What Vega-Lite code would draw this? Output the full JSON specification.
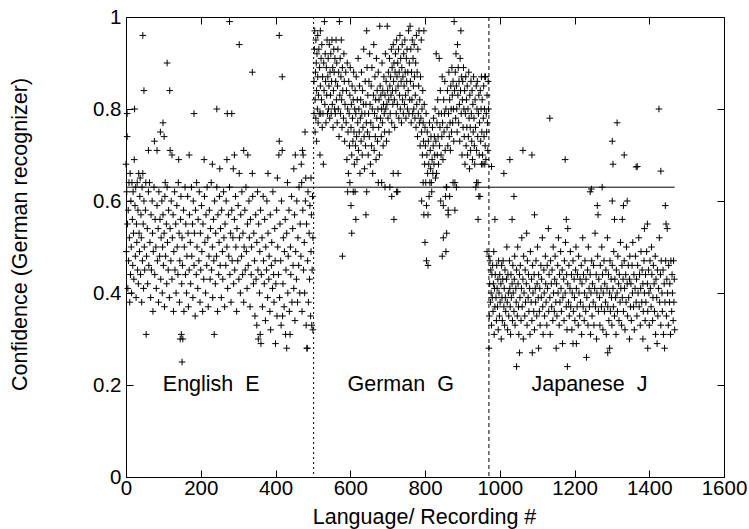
{
  "$schema": "https://vega.github.io/schema/vega-lite/v6.json",
  "width": 598,
  "height": 460,
  "autosize": {"type": "none"},
  "padding": {"left": 126, "top": 17, "right": 25, "bottom": 52},
  "background": "white",
  "config": {
    "view": {"stroke": "black", "strokeWidth": 1},
    "axis": {"grid": false, "domain": false, "tickColor": "black", "tickSize": -7, "tickWidth": 1, "labelColor": "black", "labelFont": "Liberation Sans", "labelFontSize": 20.5, "labelFlush": false, "labelOverlap": false, "titleFont": "Liberation Sans", "titleFontSize": 21.5, "titleFontWeight": "normal", "titleColor": "black"}
  },
  "resolve": {"axis": {"x": "independent", "y": "independent"}},
  "layer": [
    {
      "data": {"values": [
{"rec":0,"conf":0.68},{"rec":1,"conf":0.49},{"rec":2,"conf":0.62},{"rec":3,"conf":0.79},{"rec":3,"conf":0.74},{"rec":4,"conf":0.55},{"rec":5,"conf":0.41},{"rec":6,"conf":0.58},{"rec":7,"conf":0.47},{"rec":8,"conf":0.64},{"rec":9,"conf":0.52},{"rec":10,"conf":0.38},{"rec":11,"conf":0.66},{"rec":12,"conf":0.44},{"rec":13,"conf":0.60},{"rec":14,"conf":0.50},{"rec":15,"conf":0.40},{"rec":16,"conf":0.64},{"rec":17,"conf":0.56},{"rec":18,"conf":0.46},{"rec":19,"conf":0.62},{"rec":20,"conf":0.53},{"rec":21,"conf":0.43},{"rec":22,"conf":0.69},{"rec":23,"conf":0.80},{"rec":24,"conf":0.59},{"rec":25,"conf":0.48},{"rec":26,"conf":0.63},{"rec":27,"conf":0.39},{"rec":28,"conf":0.55},{"rec":29,"conf":0.51},{"rec":30,"conf":0.64},{"rec":31,"conf":0.45},{"rec":32,"conf":0.58},{"rec":33,"conf":0.42},{"rec":34,"conf":0.66},{"rec":35,"conf":0.53},{"rec":36,"conf":0.49},{"rec":37,"conf":0.61},{"rec":38,"conf":0.65},{"rec":39,"conf":0.44},{"rec":40,"conf":0.57},{"rec":41,"conf":0.52},{"rec":42,"conf":0.38},{"rec":43,"conf":0.63},{"rec":44,"conf":0.47},{"rec":45,"conf":0.66},{"rec":45,"conf":0.96},{"rec":46,"conf":0.55},{"rec":47,"conf":0.41},{"rec":48,"conf":0.84},{"rec":48,"conf":0.60},{"rec":49,"conf":0.50},{"rec":50,"conf":0.45},
{"rec":52,"conf":0.58},{"rec":53,"conf":0.64},{"rec":54,"conf":0.31},{"rec":55,"conf":0.48},{"rec":57,"conf":0.54},{"rec":58,"conf":0.42},{"rec":60,"conf":0.71},{"rec":60,"conf":0.62},{"rec":61,"conf":0.46},{"rec":63,"conf":0.64},{"rec":64,"conf":0.51},{"rec":66,"conf":0.39},{"rec":67,"conf":0.57},{"rec":68,"conf":0.45},{"rec":70,"conf":0.60},{"rec":71,"conf":0.53},{"rec":72,"conf":0.36},{"rec":73,"conf":0.49},{"rec":75,"conf":0.63},{"rec":76,"conf":0.73},{"rec":77,"conf":0.44},{"rec":78,"conf":0.56},{"rec":80,"conf":0.50},{"rec":81,"conf":0.41},{"rec":83,"conf":0.71},{"rec":83,"conf":0.59},{"rec":84,"conf":0.47},{"rec":86,"conf":0.54},{"rec":87,"conf":0.38},{"rec":88,"conf":0.62},{"rec":90,"conf":0.48},{"rec":91,"conf":0.56},{"rec":92,"conf":0.75},{"rec":93,"conf":0.43},{"rec":94,"conf":0.52},{"rec":96,"conf":0.60},{"rec":97,"conf":0.40},{"rec":98,"conf":0.50},{"rec":99,"conf":0.77},{"rec":99,"conf":0.57},{"rec":100,"conf":0.46},
{"rec":102,"conf":0.74},{"rec":102,"conf":0.53},{"rec":103,"conf":0.37},{"rec":104,"conf":0.61},{"rec":105,"conf":0.64},{"rec":106,"conf":0.48},{"rec":108,"conf":0.55},{"rec":109,"conf":0.42},{"rec":110,"conf":0.90},{"rec":110,"conf":0.63},{"rec":111,"conf":0.51},{"rec":113,"conf":0.45},{"rec":114,"conf":0.58},{"rec":116,"conf":0.39},{"rec":117,"conf":0.84},{"rec":118,"conf":0.71},{"rec":118,"conf":0.54},{"rec":120,"conf":0.47},{"rec":121,"conf":0.60},{"rec":123,"conf":0.70},{"rec":123,"conf":0.43},{"rec":124,"conf":0.52},{"rec":126,"conf":0.57},{"rec":127,"conf":0.36},{"rec":128,"conf":0.49},{"rec":130,"conf":0.62},{"rec":131,"conf":0.45},{"rec":133,"conf":0.55},{"rec":134,"conf":0.40},{"rec":136,"conf":0.59},{"rec":137,"conf":0.50},{"rec":139,"conf":0.44},{"rec":140,"conf":0.64},{"rec":141,"conf":0.69},{"rec":142,"conf":0.53},{"rec":143,"conf":0.38},{"rec":144,"conf":0.47},{"rec":145,"conf":0.30},{"rec":146,"conf":0.56},{"rec":147,"conf":0.61},{"rec":148,"conf":0.31},{"rec":149,"conf":0.42},{"rec":150,"conf":0.25},{"rec":150,"conf":0.52},{"rec":151,"conf":0.46},{"rec":152,"conf":0.30},
{"rec":154,"conf":0.58},{"rec":155,"conf":0.36},{"rec":156,"conf":0.50},{"rec":158,"conf":0.63},{"rec":159,"conf":0.44},{"rec":160,"conf":0.55},{"rec":162,"conf":0.40},{"rec":163,"conf":0.48},{"rec":165,"conf":0.61},{"rec":166,"conf":0.53},{"rec":167,"conf":0.37},{"rec":169,"conf":0.70},{"rec":169,"conf":0.45},{"rec":170,"conf":0.57},{"rec":172,"conf":0.51},{"rec":173,"conf":0.42},{"rec":175,"conf":0.63},{"rec":176,"conf":0.48},{"rec":178,"conf":0.55},{"rec":179,"conf":0.39},{"rec":180,"conf":0.60},{"rec":182,"conf":0.79},{"rec":182,"conf":0.46},{"rec":183,"conf":0.53},{"rec":185,"conf":0.35},{"rec":186,"conf":0.58},{"rec":188,"conf":0.44},{"rec":189,"conf":0.64},{"rec":190,"conf":0.50},{"rec":192,"conf":0.41},{"rec":193,"conf":0.56},{"rec":195,"conf":0.47},{"rec":196,"conf":0.62},{"rec":198,"conf":0.38},{"rec":199,"conf":0.53},{"rec":200,"conf":0.45},{"rec":202,"conf":0.59},{"rec":203,"conf":0.49},{"rec":205,"conf":0.36},{"rec":206,"conf":0.55},{"rec":208,"conf":0.43},{"rec":209,"conf":0.69},{"rec":210,"conf":0.61},{"rec":211,"conf":0.51},{"rec":213,"conf":0.40},{"rec":214,"conf":0.57},{"rec":216,"conf":0.46},{"rec":217,"conf":0.63},{"rec":219,"conf":0.52},{"rec":220,"conf":0.37},{"rec":222,"conf":0.48},{"rec":223,"conf":0.58},{"rec":225,"conf":0.43},{"rec":226,"conf":0.54},{"rec":228,"conf":0.64},{"rec":229,"conf":0.45},{"rec":231,"conf":0.68},{"rec":231,"conf":0.50},{"rec":232,"conf":0.39},{"rec":234,"conf":0.56},{"rec":235,"conf":0.47},{"rec":236,"conf":0.31},{"rec":237,"conf":0.60},{"rec":239,"conf":0.42},{"rec":240,"conf":0.53},{"rec":242,"conf":0.48},{"rec":243,"conf":0.80},{"rec":243,"conf":0.63},{"rec":245,"conf":0.36},{"rec":246,"conf":0.57},{"rec":248,"conf":0.44},{"rec":249,"conf":0.51},{"rec":250,"conf":0.61},
{"rec":251,"conf":0.67},{"rec":252,"conf":0.46},{"rec":253,"conf":0.54},{"rec":255,"conf":0.39},{"rec":256,"conf":0.58},{"rec":258,"conf":0.49},{"rec":259,"conf":0.43},{"rec":261,"conf":0.62},{"rec":262,"conf":0.52},{"rec":264,"conf":0.37},{"rec":265,"conf":0.55},{"rec":267,"conf":0.46},{"rec":268,"conf":0.60},{"rec":270,"conf":0.69},{"rec":270,"conf":0.50},{"rec":271,"conf":0.79},{"rec":272,"conf":0.41},{"rec":274,"conf":0.57},{"rec":275,"conf":0.48},{"rec":277,"conf":0.99},{"rec":277,"conf":0.63},{"rec":278,"conf":0.44},{"rec":280,"conf":0.53},{"rec":281,"conf":0.38},{"rec":283,"conf":0.79},{"rec":283,"conf":0.58},{"rec":284,"conf":0.47},{"rec":286,"conf":0.52},{"rec":287,"conf":0.67},{"rec":288,"conf":0.42},{"rec":290,"conf":0.70},{"rec":290,"conf":0.56},{"rec":291,"conf":0.45},{"rec":293,"conf":0.61},{"rec":294,"conf":0.50},{"rec":296,"conf":0.36},{"rec":297,"conf":0.54},{"rec":299,"conf":0.47},{"rec":300,"conf":0.59},{"rec":302,"conf":0.43},{"rec":303,"conf":0.94},{"rec":303,"conf":0.66},{"rec":304,"conf":0.52},{"rec":306,"conf":0.40},{"rec":307,"conf":0.57},{"rec":309,"conf":0.48},{"rec":310,"conf":0.62},{"rec":312,"conf":0.44},{"rec":313,"conf":0.53},{"rec":315,"conf":0.71},{"rec":315,"conf":0.38},{"rec":316,"conf":0.50},{"rec":318,"conf":0.58},{"rec":319,"conf":0.45},{"rec":321,"conf":0.63},{"rec":322,"conf":0.49},{"rec":324,"conf":0.41},{"rec":325,"conf":0.55},{"rec":326,"conf":0.70},{"rec":327,"conf":0.46},{"rec":329,"conf":0.60},{"rec":330,"conf":0.52},{"rec":332,"conf":0.37},{"rec":333,"conf":0.56},{"rec":335,"conf":0.44},{"rec":336,"conf":0.50},{"rec":338,"conf":0.88},{"rec":338,"conf":0.66},{"rec":339,"conf":0.61},{"rec":341,"conf":0.42},{"rec":342,"conf":0.53},{"rec":344,"conf":0.47},{"rec":345,"conf":0.35},{"rec":347,"conf":0.57},{"rec":348,"conf":0.43},{"rec":350,"conf":0.33},{"rec":350,"conf":0.51},
{"rec":352,"conf":0.62},{"rec":353,"conf":0.45},{"rec":354,"conf":0.30},{"rec":355,"conf":0.55},{"rec":357,"conf":0.40},{"rec":358,"conf":0.49},{"rec":359,"conf":0.31},{"rec":360,"conf":0.58},{"rec":361,"conf":0.29},{"rec":362,"conf":0.44},{"rec":364,"conf":0.52},{"rec":365,"conf":0.37},{"rec":367,"conf":0.61},{"rec":368,"conf":0.47},{"rec":370,"conf":0.42},{"rec":371,"conf":0.56},{"rec":373,"conf":0.34},{"rec":374,"conf":0.50},{"rec":376,"conf":0.45},{"rec":377,"conf":0.60},{"rec":379,"conf":0.39},{"rec":380,"conf":0.66},{"rec":380,"conf":0.53},{"rec":382,"conf":0.43},{"rec":383,"conf":0.48},{"rec":385,"conf":0.36},{"rec":386,"conf":0.57},{"rec":387,"conf":0.32},{"rec":389,"conf":0.46},{"rec":390,"conf":0.51},{"rec":392,"conf":0.41},{"rec":393,"conf":0.62},{"rec":395,"conf":0.44},{"rec":396,"conf":0.38},{"rec":398,"conf":0.54},{"rec":399,"conf":0.47},{"rec":400,"conf":0.29},{"rec":401,"conf":0.42},{"rec":403,"conf":0.58},{"rec":404,"conf":0.35},{"rec":405,"conf":0.65},{"rec":406,"conf":0.50},{"rec":408,"conf":0.44},{"rec":409,"conf":0.70},{"rec":410,"conf":0.96},{"rec":410,"conf":0.73},{"rec":411,"conf":0.39},{"rec":412,"conf":0.55},{"rec":414,"conf":0.47},{"rec":415,"conf":0.33},{"rec":416,"conf":0.60},{"rec":418,"conf":0.87},{"rec":418,"conf":0.71},{"rec":419,"conf":0.35},{"rec":420,"conf":0.42},{"rec":421,"conf":0.52},{"rec":423,"conf":0.37},{"rec":424,"conf":0.49},{"rec":426,"conf":0.56},{"rec":427,"conf":0.31},{"rec":428,"conf":0.45},{"rec":430,"conf":0.28},{"rec":430,"conf":0.53},{"rec":432,"conf":0.64},{"rec":433,"conf":0.40},{"rec":434,"conf":0.48},{"rec":436,"conf":0.58},{"rec":437,"conf":0.36},{"rec":439,"conf":0.31},{"rec":440,"conf":0.50},{"rec":441,"conf":0.44},{"rec":443,"conf":0.61},{"rec":444,"conf":0.38},{"rec":446,"conf":0.54},{"rec":447,"conf":0.46},{"rec":449,"conf":0.67},{"rec":449,"conf":0.41},
{"rec":451,"conf":0.57},{"rec":452,"conf":0.34},{"rec":453,"conf":0.70},{"rec":454,"conf":0.49},{"rec":456,"conf":0.43},{"rec":457,"conf":0.60},{"rec":459,"conf":0.38},{"rec":460,"conf":0.52},{"rec":462,"conf":0.46},{"rec":463,"conf":0.63},{"rec":465,"conf":0.40},{"rec":466,"conf":0.55},{"rec":468,"conf":0.48},{"rec":469,"conf":0.68},{"rec":470,"conf":0.64},{"rec":471,"conf":0.36},{"rec":472,"conf":0.71},{"rec":473,"conf":0.58},{"rec":474,"conf":0.70},{"rec":475,"conf":0.45},{"rec":477,"conf":0.51},{"rec":478,"conf":0.40},{"rec":479,"conf":0.75},{"rec":480,"conf":0.60},{"rec":481,"conf":0.65},{"rec":482,"conf":0.33},{"rec":483,"conf":0.55},{"rec":484,"conf":0.28},{"rec":485,"conf":0.28},{"rec":486,"conf":0.47},{"rec":487,"conf":0.62},{"rec":488,"conf":0.38},{"rec":490,"conf":0.53},{"rec":491,"conf":0.43},{"rec":492,"conf":0.59},{"rec":494,"conf":0.35},{"rec":495,"conf":0.65},{"rec":495,"conf":0.49},{"rec":496,"conf":0.57},{"rec":497,"conf":0.33},{"rec":498,"conf":0.45},{"rec":499,"conf":0.61},{"rec":500,"conf":0.32},{"rec":500,"conf":0.52},
{"rec":503,"conf":0.79},{"rec":503,"conf":0.86},{"rec":504,"conf":0.93},{"rec":505,"conf":0.97},{"rec":506,"conf":0.75},{"rec":506,"conf":0.82},{"rec":507,"conf":0.88},{"rec":508,"conf":0.95},{"rec":508,"conf":0.78},{"rec":509,"conf":0.90},{"rec":510,"conf":0.84},{"rec":510,"conf":0.73},{"rec":511,"conf":0.92},{"rec":512,"conf":0.80},{"rec":513,"conf":0.96},{"rec":513,"conf":0.87},{"rec":514,"conf":0.77},{"rec":515,"conf":0.83},{"rec":516,"conf":0.93},{"rec":517,"conf":0.79},{"rec":518,"conf":0.89},{"rec":519,"conf":0.70},{"rec":520,"conf":0.85},{"rec":520,"conf":0.97},{"rec":521,"conf":0.79},{"rec":522,"conf":0.91},{"rec":523,"conf":0.82},{"rec":524,"conf":0.94},{"rec":525,"conf":0.76},{"rec":526,"conf":0.87},{"rec":527,"conf":0.79},{"rec":528,"conf":0.68},{"rec":529,"conf":0.90},{"rec":530,"conf":0.84},{"rec":531,"conf":0.99},{"rec":532,"conf":0.81},{"rec":533,"conf":0.92},{"rec":534,"conf":0.86},{"rec":535,"conf":0.77},{"rec":536,"conf":0.89},{"rec":537,"conf":0.83},{"rec":538,"conf":0.95},{"rec":539,"conf":0.79},{"rec":540,"conf":0.87},
{"rec":541,"conf":0.91},{"rec":542,"conf":0.80},{"rec":543,"conf":0.85},{"rec":544,"conf":0.94},{"rec":545,"conf":0.78},{"rec":546,"conf":0.88},{"rec":547,"conf":0.83},{"rec":548,"conf":0.92},{"rec":549,"conf":0.79},{"rec":550,"conf":0.86},{"rec":551,"conf":0.95},{"rec":552,"conf":0.81},{"rec":553,"conf":0.89},{"rec":554,"conf":0.76},{"rec":555,"conf":0.84},{"rec":556,"conf":0.93},{"rec":557,"conf":0.88},{"rec":558,"conf":0.80},{"rec":559,"conf":0.91},{"rec":560,"conf":0.79},{"rec":561,"conf":0.86},{"rec":562,"conf":0.95},{"rec":563,"conf":0.82},{"rec":564,"conf":0.90},{"rec":565,"conf":0.77},{"rec":566,"conf":0.85},{"rec":567,"conf":0.93},{"rec":568,"conf":0.80},{"rec":569,"conf":0.88},{"rec":570,"conf":0.74},{"rec":571,"conf":0.99},{"rec":572,"conf":0.83},{"rec":573,"conf":0.91},{"rec":574,"conf":0.79},{"rec":575,"conf":0.87},{"rec":576,"conf":0.95},{"rec":577,"conf":0.82},{"rec":578,"conf":0.76},{"rec":579,"conf":0.48},{"rec":579,"conf":0.89},{"rec":580,"conf":0.84},{"rec":582,"conf":0.78},{"rec":583,"conf":0.92},{"rec":584,"conf":0.86},{"rec":585,"conf":0.73},{"rec":586,"conf":0.81},{"rec":588,"conf":0.88},{"rec":589,"conf":0.77},{"rec":590,"conf":0.84},{"rec":591,"conf":0.69},{"rec":592,"conf":0.90},{"rec":593,"conf":0.62},{"rec":593,"conf":0.80},{"rec":594,"conf":0.75},{"rec":595,"conf":0.66},{"rec":596,"conf":0.86},{"rec":597,"conf":0.79},{"rec":598,"conf":0.72},{"rec":599,"conf":0.64},{"rec":599,"conf":0.83},{"rec":600,"conf":0.89},
{"rec":602,"conf":0.59},{"rec":602,"conf":0.76},{"rec":603,"conf":0.81},{"rec":604,"conf":0.53},{"rec":604,"conf":0.70},{"rec":605,"conf":0.85},{"rec":606,"conf":0.78},{"rec":607,"conf":0.73},{"rec":608,"conf":0.62},{"rec":608,"conf":0.82},{"rec":609,"conf":0.88},{"rec":610,"conf":0.75},{"rec":611,"conf":0.68},{"rec":612,"conf":0.80},{"rec":613,"conf":0.62},{"rec":613,"conf":0.84},{"rec":614,"conf":0.72},{"rec":615,"conf":0.56},{"rec":615,"conf":0.79},{"rec":616,"conf":0.87},{"rec":617,"conf":0.74},{"rec":618,"conf":0.69},{"rec":619,"conf":0.82},{"rec":620,"conf":0.77},{"rec":621,"conf":0.91},{"rec":622,"conf":0.71},{"rec":623,"conf":0.80},{"rec":624,"conf":0.75},{"rec":625,"conf":0.85},{"rec":626,"conf":0.66},{"rec":627,"conf":0.78},{"rec":628,"conf":0.82},{"rec":629,"conf":0.73},{"rec":630,"conf":0.88},{"rec":631,"conf":0.79},{"rec":632,"conf":0.70},{"rec":633,"conf":0.84},{"rec":634,"conf":0.76},{"rec":635,"conf":0.81},{"rec":636,"conf":0.93},{"rec":637,"conf":0.74},{"rec":638,"conf":0.67},{"rec":639,"conf":0.79},{"rec":640,"conf":0.86},{"rec":641,"conf":0.72},{"rec":642,"conf":0.57},{"rec":642,"conf":0.81},{"rec":643,"conf":0.77},{"rec":644,"conf":0.62},{"rec":644,"conf":0.97},{"rec":645,"conf":0.89},{"rec":646,"conf":0.75},{"rec":647,"conf":0.83},{"rec":648,"conf":0.70},{"rec":649,"conf":0.79},{"rec":650,"conf":0.86},
{"rec":651,"conf":0.74},{"rec":652,"conf":0.92},{"rec":653,"conf":0.81},{"rec":654,"conf":0.68},{"rec":655,"conf":0.77},{"rec":656,"conf":0.85},{"rec":657,"conf":0.72},{"rec":658,"conf":0.89},{"rec":659,"conf":0.80},{"rec":660,"conf":0.66},{"rec":661,"conf":0.76},{"rec":662,"conf":0.83},{"rec":663,"conf":0.94},{"rec":664,"conf":0.71},{"rec":665,"conf":0.79},{"rec":666,"conf":0.87},{"rec":667,"conf":0.74},{"rec":668,"conf":0.82},{"rec":669,"conf":0.69},{"rec":670,"conf":0.91},{"rec":671,"conf":0.78},{"rec":672,"conf":0.84},{"rec":673,"conf":0.73},{"rec":674,"conf":0.80},{"rec":675,"conf":0.64},{"rec":675,"conf":0.88},{"rec":676,"conf":0.76},{"rec":677,"conf":0.82},{"rec":678,"conf":0.70},{"rec":679,"conf":0.98},{"rec":680,"conf":0.85},{"rec":681,"conf":0.78},{"rec":682,"conf":0.83},{"rec":683,"conf":0.74},{"rec":684,"conf":0.64},{"rec":684,"conf":0.80},{"rec":685,"conf":0.90},{"rec":686,"conf":0.77},{"rec":687,"conf":0.84},{"rec":688,"conf":0.72},{"rec":689,"conf":0.81},{"rec":690,"conf":0.87},{"rec":691,"conf":0.79},{"rec":692,"conf":0.75},{"rec":693,"conf":0.63},{"rec":693,"conf":0.83},{"rec":694,"conf":0.92},{"rec":695,"conf":0.80},{"rec":696,"conf":0.86},{"rec":697,"conf":0.73},{"rec":698,"conf":0.81},{"rec":699,"conf":0.98},{"rec":700,"conf":0.84},{"rec":701,"conf":0.78},{"rec":702,"conf":0.88},{"rec":703,"conf":0.82},{"rec":704,"conf":0.75},{"rec":705,"conf":0.91},{"rec":706,"conf":0.63},{"rec":706,"conf":0.85},{"rec":707,"conf":0.79},{"rec":708,"conf":0.87},{"rec":709,"conf":0.83},{"rec":710,"conf":0.93},{"rec":711,"conf":0.61},{"rec":711,"conf":0.77},{"rec":712,"conf":0.89},{"rec":713,"conf":0.84},{"rec":714,"conf":0.81},{"rec":715,"conf":0.66},{"rec":715,"conf":0.94},{"rec":716,"conf":0.86},{"rec":717,"conf":0.56},{"rec":717,"conf":0.90},{"rec":718,"conf":0.82},{"rec":719,"conf":0.76},{"rec":720,"conf":0.88},
{"rec":721,"conf":0.92},{"rec":722,"conf":0.84},{"rec":723,"conf":0.79},{"rec":724,"conf":0.62},{"rec":724,"conf":0.95},{"rec":725,"conf":0.87},{"rec":726,"conf":0.81},{"rec":727,"conf":0.62},{"rec":727,"conf":0.90},{"rec":728,"conf":0.66},{"rec":728,"conf":0.85},{"rec":729,"conf":0.93},{"rec":730,"conf":0.78},{"rec":731,"conf":0.88},{"rec":732,"conf":0.83},{"rec":733,"conf":0.96},{"rec":734,"conf":0.80},{"rec":735,"conf":0.91},{"rec":736,"conf":0.86},{"rec":737,"conf":0.77},{"rec":738,"conf":0.89},{"rec":739,"conf":0.94},{"rec":740,"conf":0.82},{"rec":741,"conf":0.87},{"rec":742,"conf":0.79},{"rec":743,"conf":0.92},{"rec":744,"conf":0.85},{"rec":745,"conf":0.81},{"rec":746,"conf":0.95},{"rec":747,"conf":0.88},{"rec":748,"conf":0.83},{"rec":749,"conf":0.78},{"rec":750,"conf":0.91},{"rec":751,"conf":0.86},{"rec":752,"conf":0.93},{"rec":753,"conf":0.80},{"rec":754,"conf":0.88},{"rec":755,"conf":0.84},{"rec":756,"conf":0.97},{"rec":757,"conf":0.79},{"rec":758,"conf":0.90},{"rec":759,"conf":0.82},{"rec":760,"conf":0.98},{"rec":761,"conf":0.86},{"rec":762,"conf":0.93},{"rec":763,"conf":0.77},{"rec":764,"conf":0.88},{"rec":765,"conf":0.82},{"rec":766,"conf":0.95},{"rec":767,"conf":0.79},{"rec":768,"conf":0.91},{"rec":769,"conf":0.85},{"rec":770,"conf":0.80},{"rec":771,"conf":0.94},{"rec":772,"conf":0.87},{"rec":773,"conf":0.78},{"rec":774,"conf":0.83},{"rec":775,"conf":0.90},{"rec":776,"conf":0.76},{"rec":777,"conf":0.96},{"rec":778,"conf":0.81},{"rec":779,"conf":0.88},{"rec":780,"conf":0.74},{"rec":781,"conf":0.93},{"rec":782,"conf":0.79},{"rec":783,"conf":0.85},{"rec":784,"conf":0.97},{"rec":785,"conf":0.77},{"rec":786,"conf":0.82},{"rec":787,"conf":0.72},{"rec":788,"conf":0.87},{"rec":789,"conf":0.78},{"rec":790,"conf":0.95},{"rec":791,"conf":0.60},{"rec":791,"conf":0.75},{"rec":792,"conf":0.80},{"rec":793,"conf":0.70},{"rec":794,"conf":0.84},{"rec":795,"conf":0.64},{"rec":795,"conf":0.77},{"rec":796,"conf":0.73},{"rec":797,"conf":0.57},{"rec":797,"conf":0.97},{"rec":798,"conf":0.81},{"rec":799,"conf":0.68},{"rec":800,"conf":0.51},{"rec":800,"conf":0.76},
{"rec":801,"conf":0.72},{"rec":802,"conf":0.64},{"rec":803,"conf":0.79},{"rec":804,"conf":0.47},{"rec":804,"conf":0.59},{"rec":805,"conf":0.70},{"rec":806,"conf":0.75},{"rec":807,"conf":0.66},{"rec":808,"conf":0.46},{"rec":808,"conf":0.57},{"rec":809,"conf":0.73},{"rec":810,"conf":0.68},{"rec":811,"conf":0.61},{"rec":812,"conf":0.77},{"rec":813,"conf":0.64},{"rec":814,"conf":0.71},{"rec":815,"conf":0.67},{"rec":816,"conf":0.74},{"rec":817,"conf":0.64},{"rec":818,"conf":0.62},{"rec":819,"conf":0.69},{"rec":820,"conf":0.76},{"rec":821,"conf":0.66},{"rec":822,"conf":0.72},{"rec":823,"conf":0.78},{"rec":824,"conf":0.68},{"rec":825,"conf":0.74},{"rec":826,"conf":0.70},{"rec":827,"conf":0.80},{"rec":828,"conf":0.65},{"rec":829,"conf":0.73},{"rec":830,"conf":0.92},{"rec":831,"conf":0.66},{"rec":832,"conf":0.77},{"rec":833,"conf":0.70},{"rec":834,"conf":0.82},{"rec":835,"conf":0.74},{"rec":836,"conf":0.68},{"rec":837,"conf":0.79},{"rec":838,"conf":0.91},{"rec":839,"conf":0.72},{"rec":840,"conf":0.76},{"rec":841,"conf":0.84},{"rec":842,"conf":0.60},{"rec":843,"conf":0.70},{"rec":844,"conf":0.79},{"rec":845,"conf":0.74},{"rec":846,"conf":0.48},{"rec":846,"conf":0.87},{"rec":847,"conf":0.77},{"rec":848,"conf":0.69},{"rec":849,"conf":0.52},{"rec":849,"conf":0.59},{"rec":850,"conf":0.82},{"rec":851,"conf":0.75},{"rec":852,"conf":0.79},{"rec":853,"conf":0.86},{"rec":854,"conf":0.71},{"rec":855,"conf":0.61},{"rec":856,"conf":0.49},{"rec":856,"conf":0.80},{"rec":857,"conf":0.63},{"rec":858,"conf":0.53},{"rec":858,"conf":0.63},{"rec":859,"conf":0.76},{"rec":860,"conf":0.84},{"rec":861,"conf":0.72},{"rec":862,"conf":0.57},{"rec":862,"conf":0.58},{"rec":863,"conf":0.79},{"rec":864,"conf":0.88},{"rec":865,"conf":0.74},{"rec":866,"conf":0.61},{"rec":866,"conf":0.82},{"rec":867,"conf":0.77},{"rec":868,"conf":0.71},{"rec":869,"conf":0.85},{"rec":870,"conf":0.80},{"rec":871,"conf":0.75},{"rec":872,"conf":0.89},{"rec":873,"conf":0.83},{"rec":874,"conf":0.77},{"rec":875,"conf":0.64},{"rec":875,"conf":0.86},{"rec":876,"conf":0.80},{"rec":877,"conf":0.73},{"rec":878,"conf":0.99},{"rec":879,"conf":0.84},{"rec":880,"conf":0.58},{"rec":880,"conf":0.64},
{"rec":881,"conf":0.88},{"rec":882,"conf":0.78},{"rec":883,"conf":0.92},{"rec":884,"conf":0.63},{"rec":884,"conf":0.85},{"rec":885,"conf":0.80},{"rec":886,"conf":0.75},{"rec":887,"conf":0.94},{"rec":888,"conf":0.83},{"rec":889,"conf":0.89},{"rec":890,"conf":0.77},{"rec":891,"conf":0.86},{"rec":892,"conf":0.81},{"rec":893,"conf":0.73},{"rec":894,"conf":0.91},{"rec":895,"conf":0.84},{"rec":896,"conf":0.97},{"rec":897,"conf":0.79},{"rec":898,"conf":0.87},{"rec":899,"conf":0.70},{"rec":900,"conf":0.82},{"rec":901,"conf":0.86},{"rec":902,"conf":0.76},{"rec":903,"conf":0.89},{"rec":904,"conf":0.80},{"rec":905,"conf":0.74},{"rec":906,"conf":0.84},{"rec":907,"conf":0.68},{"rec":908,"conf":0.79},{"rec":909,"conf":0.87},{"rec":910,"conf":0.72},{"rec":911,"conf":0.82},{"rec":912,"conf":0.76},{"rec":913,"conf":0.85},{"rec":914,"conf":0.70},{"rec":915,"conf":0.80},{"rec":916,"conf":0.74},{"rec":917,"conf":0.88},{"rec":918,"conf":0.78},{"rec":919,"conf":0.67},{"rec":920,"conf":0.83},{"rec":921,"conf":0.76},{"rec":922,"conf":0.71},{"rec":923,"conf":0.86},{"rec":924,"conf":0.79},{"rec":925,"conf":0.73},{"rec":926,"conf":0.84},{"rec":927,"conf":0.69},{"rec":928,"conf":0.81},{"rec":929,"conf":0.75},{"rec":930,"conf":0.87},{"rec":931,"conf":0.78},{"rec":932,"conf":0.72},{"rec":933,"conf":0.68},{"rec":934,"conf":0.82},{"rec":935,"conf":0.76},{"rec":936,"conf":0.63},{"rec":937,"conf":0.85},{"rec":938,"conf":0.64},{"rec":938,"conf":0.71},{"rec":939,"conf":0.80},{"rec":940,"conf":0.86},{"rec":941,"conf":0.74},{"rec":942,"conf":0.64},{"rec":942,"conf":0.56},{"rec":943,"conf":0.79},{"rec":944,"conf":0.61},{"rec":944,"conf":0.83},{"rec":945,"conf":0.70},{"rec":946,"conf":0.77},{"rec":947,"conf":0.61},{"rec":948,"conf":0.84},{"rec":949,"conf":0.73},{"rec":950,"conf":0.80},{"rec":951,"conf":0.87},{"rec":951,"conf":0.68},{"rec":952,"conf":0.75},{"rec":953,"conf":0.82},{"rec":954,"conf":0.70},{"rec":955,"conf":0.68},{"rec":956,"conf":0.78},{"rec":957,"conf":0.85},{"rec":958,"conf":0.74},{"rec":959,"conf":0.80},{"rec":960,"conf":0.87},{"rec":960,"conf":0.68},{"rec":961,"conf":0.72},{"rec":962,"conf":0.87},{"rec":963,"conf":0.69},{"rec":964,"conf":0.79},{"rec":965,"conf":0.75},{"rec":966,"conf":0.49},{"rec":966,"conf":0.83},{"rec":967,"conf":0.77},{"rec":968,"conf":0.71},{"rec":969,"conf":0.86},{"rec":970,"conf":0.80},
{"rec":971,"conf":0.48},{"rec":971,"conf":0.28},{"rec":972,"conf":0.35},{"rec":973,"conf":0.42},{"rec":974,"conf":0.47},{"rec":975,"conf":0.38},{"rec":976,"conf":0.45},{"rec":977,"conf":0.40},{"rec":978,"conf":0.675},{"rec":978,"conf":0.33},{"rec":979,"conf":0.44},{"rec":980,"conf":0.39},{"rec":981,"conf":0.46},{"rec":982,"conf":0.36},{"rec":983,"conf":0.42},{"rec":984,"conf":0.49},{"rec":985,"conf":0.31},{"rec":986,"conf":0.41},{"rec":987,"conf":0.56},{"rec":987,"conf":0.37},{"rec":988,"conf":0.44},{"rec":990,"conf":0.39},{"rec":991,"conf":0.34},{"rec":992,"conf":0.46},{"rec":993,"conf":0.41},{"rec":994,"conf":0.37},{"rec":995,"conf":0.43},{"rec":996,"conf":0.32},{"rec":997,"conf":0.47},{"rec":998,"conf":0.40},{"rec":999,"conf":0.35},{"rec":1000,"conf":0.44},{"rec":1001,"conf":0.38},{"rec":1003,"conf":0.42},{"rec":1004,"conf":0.30},{"rec":1005,"conf":0.46},{"rec":1006,"conf":0.39},{"rec":1007,"conf":0.34},{"rec":1008,"conf":0.43},{"rec":1009,"conf":0.47},{"rec":1011,"conf":0.66},{"rec":1011,"conf":0.37},{"rec":1012,"conf":0.41},{"rec":1013,"conf":0.33},{"rec":1014,"conf":0.45},{"rec":1015,"conf":0.39},{"rec":1016,"conf":0.36},{"rec":1018,"conf":0.43},{"rec":1019,"conf":0.50},{"rec":1020,"conf":0.38},{"rec":1021,"conf":0.32},{"rec":1022,"conf":0.44},{"rec":1023,"conf":0.40},{"rec":1024,"conf":0.35},{"rec":1026,"conf":0.47},{"rec":1027,"conf":0.69},{"rec":1027,"conf":0.41},{"rec":1028,"conf":0.37},{"rec":1029,"conf":0.31},{"rec":1030,"conf":0.44},{"rec":1031,"conf":0.39},{"rec":1033,"conf":0.56},{"rec":1033,"conf":0.42},{"rec":1034,"conf":0.34},{"rec":1035,"conf":0.46},{"rec":1036,"conf":0.40},{"rec":1038,"conf":0.61},{"rec":1038,"conf":0.36},{"rec":1039,"conf":0.43},{"rec":1040,"conf":0.48},{"rec":1041,"conf":0.33},{"rec":1043,"conf":0.41},{"rec":1044,"conf":0.38},{"rec":1045,"conf":0.24},{"rec":1045,"conf":0.45},{"rec":1047,"conf":0.35},{"rec":1048,"conf":0.50},{"rec":1049,"conf":0.42},{"rec":1050,"conf":0.37},
{"rec":1051,"conf":0.31},{"rec":1053,"conf":0.27},{"rec":1053,"conf":0.44},{"rec":1054,"conf":0.39},{"rec":1055,"conf":0.46},{"rec":1057,"conf":0.34},{"rec":1058,"conf":0.41},{"rec":1059,"conf":0.52},{"rec":1060,"conf":0.37},{"rec":1062,"conf":0.71},{"rec":1062,"conf":0.43},{"rec":1063,"conf":0.30},{"rec":1064,"conf":0.48},{"rec":1065,"conf":0.40},{"rec":1067,"conf":0.35},{"rec":1068,"conf":0.45},{"rec":1069,"conf":0.38},{"rec":1071,"conf":0.42},{"rec":1072,"conf":0.53},{"rec":1073,"conf":0.33},{"rec":1074,"conf":0.47},{"rec":1076,"conf":0.39},{"rec":1077,"conf":0.44},{"rec":1078,"conf":0.36},{"rec":1080,"conf":0.41},{"rec":1081,"conf":0.31},{"rec":1082,"conf":0.49},{"rec":1084,"conf":0.38},{"rec":1085,"conf":0.43},{"rec":1086,"conf":0.70},{"rec":1086,"conf":0.34},{"rec":1087,"conf":0.27},{"rec":1088,"conf":0.46},{"rec":1089,"conf":0.40},{"rec":1091,"conf":0.36},{"rec":1092,"conf":0.44},{"rec":1093,"conf":0.57},{"rec":1093,"conf":0.32},{"rec":1095,"conf":0.41},{"rec":1096,"conf":0.38},{"rec":1097,"conf":0.47},{"rec":1099,"conf":0.35},{"rec":1100,"conf":0.42},{"rec":1101,"conf":0.50},{"rec":1103,"conf":0.39},{"rec":1104,"conf":0.28},{"rec":1104,"conf":0.44},{"rec":1106,"conf":0.36},{"rec":1107,"conf":0.41},{"rec":1108,"conf":0.33},{"rec":1110,"conf":0.46},{"rec":1111,"conf":0.39},{"rec":1112,"conf":0.43},{"rec":1114,"conf":0.52},{"rec":1115,"conf":0.37},{"rec":1116,"conf":0.31},{"rec":1118,"conf":0.45},{"rec":1119,"conf":0.40},{"rec":1120,"conf":0.35},{"rec":1122,"conf":0.48},{"rec":1123,"conf":0.42},{"rec":1124,"conf":0.38},{"rec":1126,"conf":0.33},{"rec":1127,"conf":0.46},{"rec":1128,"conf":0.41},{"rec":1130,"conf":0.54},{"rec":1131,"conf":0.36},{"rec":1132,"conf":0.44},{"rec":1134,"conf":0.78},{"rec":1134,"conf":0.39},{"rec":1135,"conf":0.31},{"rec":1136,"conf":0.47},{"rec":1138,"conf":0.42},{"rec":1139,"conf":0.37},{"rec":1140,"conf":0.45},{"rec":1142,"conf":0.34},{"rec":1143,"conf":0.50},{"rec":1144,"conf":0.40},{"rec":1146,"conf":0.36},{"rec":1147,"conf":0.43},{"rec":1148,"conf":0.48},{"rec":1150,"conf":0.38},
{"rec":1151,"conf":0.28},{"rec":1152,"conf":0.42},{"rec":1153,"conf":0.35},{"rec":1155,"conf":0.46},{"rec":1156,"conf":0.40},{"rec":1157,"conf":0.52},{"rec":1159,"conf":0.33},{"rec":1160,"conf":0.44},{"rec":1161,"conf":0.38},{"rec":1163,"conf":0.49},{"rec":1164,"conf":0.41},{"rec":1165,"conf":0.36},{"rec":1167,"conf":0.45},{"rec":1168,"conf":0.29},{"rec":1169,"conf":0.39},{"rec":1171,"conf":0.43},{"rec":1172,"conf":0.34},{"rec":1173,"conf":0.47},{"rec":1175,"conf":0.69},{"rec":1175,"conf":0.40},{"rec":1176,"conf":0.51},{"rec":1178,"conf":0.56},{"rec":1178,"conf":0.37},{"rec":1179,"conf":0.44},{"rec":1180,"conf":0.32},{"rec":1181,"conf":0.24},{"rec":1182,"conf":0.54},{"rec":1182,"conf":0.42},{"rec":1184,"conf":0.38},{"rec":1185,"conf":0.46},{"rec":1186,"conf":0.35},{"rec":1188,"conf":0.41},{"rec":1189,"conf":0.49},{"rec":1190,"conf":0.37},{"rec":1192,"conf":0.44},{"rec":1193,"conf":0.32},{"rec":1194,"conf":0.40},{"rec":1196,"conf":0.29},{"rec":1196,"conf":0.47},{"rec":1197,"conf":0.36},{"rec":1199,"conf":0.43},{"rec":1200,"conf":0.39},{"rec":1201,"conf":0.34},{"rec":1203,"conf":0.45},{"rec":1204,"conf":0.50},{"rec":1205,"conf":0.29},{"rec":1205,"conf":0.41},{"rec":1207,"conf":0.37},{"rec":1208,"conf":0.44},{"rec":1210,"conf":0.33},{"rec":1211,"conf":0.48},{"rec":1212,"conf":0.40},{"rec":1214,"conf":0.35},{"rec":1215,"conf":0.43},{"rec":1216,"conf":0.38},{"rec":1218,"conf":0.46},{"rec":1219,"conf":0.31},{"rec":1220,"conf":0.42},{"rec":1222,"conf":0.52},{"rec":1223,"conf":0.37},{"rec":1224,"conf":0.44},{"rec":1226,"conf":0.34},{"rec":1227,"conf":0.40},{"rec":1228,"conf":0.47},{"rec":1230,"conf":0.36},{"rec":1231,"conf":0.43},{"rec":1232,"conf":0.26},{"rec":1233,"conf":0.39},{"rec":1235,"conf":0.45},{"rec":1236,"conf":0.33},{"rec":1237,"conf":0.50},{"rec":1239,"conf":0.41},{"rec":1240,"conf":0.37},{"rec":1242,"conf":0.62},{"rec":1242,"conf":0.44},{"rec":1243,"conf":0.31},{"rec":1244,"conf":0.40},{"rec":1245,"conf":0.626},{"rec":1246,"conf":0.47},{"rec":1247,"conf":0.35},{"rec":1248,"conf":0.42},{"rec":1250,"conf":0.38},
{"rec":1251,"conf":0.46},{"rec":1252,"conf":0.33},{"rec":1254,"conf":0.41},{"rec":1255,"conf":0.53},{"rec":1256,"conf":0.37},{"rec":1258,"conf":0.44},{"rec":1259,"conf":0.30},{"rec":1260,"conf":0.40},{"rec":1261,"conf":0.59},{"rec":1262,"conf":0.48},{"rec":1263,"conf":0.57},{"rec":1264,"conf":0.36},{"rec":1265,"conf":0.43},{"rec":1267,"conf":0.39},{"rec":1268,"conf":0.33},{"rec":1269,"conf":0.46},{"rec":1271,"conf":0.41},{"rec":1272,"conf":0.37},{"rec":1274,"conf":0.63},{"rec":1273,"conf":0.50},{"rec":1275,"conf":0.44},{"rec":1276,"conf":0.32},{"rec":1277,"conf":0.40},{"rec":1279,"conf":0.47},{"rec":1280,"conf":0.36},{"rec":1281,"conf":0.42},{"rec":1283,"conf":0.38},{"rec":1284,"conf":0.45},{"rec":1285,"conf":0.31},{"rec":1287,"conf":0.41},{"rec":1288,"conf":0.52},{"rec":1289,"conf":0.27},{"rec":1289,"conf":0.37},{"rec":1291,"conf":0.44},{"rec":1292,"conf":0.34},{"rec":1294,"conf":0.28},{"rec":1294,"conf":0.40},{"rec":1295,"conf":0.47},{"rec":1296,"conf":0.36},{"rec":1298,"conf":0.43},{"rec":1299,"conf":0.39},{"rec":1300,"conf":0.33},{"rec":1301,"conf":0.73},{"rec":1301,"conf":0.60},{"rec":1301,"conf":0.46},{"rec":1303,"conf":0.68},{"rec":1303,"conf":0.41},{"rec":1304,"conf":0.37},{"rec":1305,"conf":0.49},{"rec":1307,"conf":0.56},{"rec":1307,"conf":0.35},{"rec":1308,"conf":0.43},{"rec":1310,"conf":0.39},{"rec":1311,"conf":0.31},{"rec":1312,"conf":0.45},{"rec":1314,"conf":0.77},{"rec":1314,"conf":0.40},{"rec":1315,"conf":0.36},{"rec":1316,"conf":0.48},{"rec":1318,"conf":0.42},{"rec":1319,"conf":0.34},{"rec":1320,"conf":0.44},{"rec":1322,"conf":0.38},{"rec":1323,"conf":0.51},{"rec":1324,"conf":0.41},{"rec":1326,"conf":0.33},{"rec":1327,"conf":0.46},{"rec":1328,"conf":0.56},{"rec":1328,"conf":0.39},{"rec":1330,"conf":0.43},{"rec":1331,"conf":0.59},{"rec":1331,"conf":0.36},{"rec":1333,"conf":0.70},{"rec":1333,"conf":0.47},{"rec":1334,"conf":0.41},{"rec":1335,"conf":0.32},{"rec":1337,"conf":0.44},{"rec":1338,"conf":0.38},{"rec":1339,"conf":0.50},{"rec":1341,"conf":0.60},{"rec":1341,"conf":0.42},{"rec":1342,"conf":0.35},{"rec":1344,"conf":0.46},{"rec":1345,"conf":0.39},{"rec":1347,"conf":0.30},{"rec":1347,"conf":0.43},{"rec":1348,"conf":0.48},{"rec":1350,"conf":0.37},
{"rec":1351,"conf":0.42},{"rec":1352,"conf":0.34},{"rec":1354,"conf":0.46},{"rec":1355,"conf":0.40},{"rec":1356,"conf":0.51},{"rec":1358,"conf":0.37},{"rec":1359,"conf":0.44},{"rec":1360,"conf":0.32},{"rec":1362,"conf":0.41},{"rec":1363,"conf":0.48},{"rec":1365,"conf":0.674},{"rec":1365,"conf":0.38},{"rec":1366,"conf":0.43},{"rec":1368,"conf":0.675},{"rec":1367,"conf":0.35},{"rec":1369,"conf":0.46},{"rec":1370,"conf":0.40},{"rec":1372,"conf":0.52},{"rec":1373,"conf":0.37},{"rec":1374,"conf":0.44},{"rec":1376,"conf":0.33},{"rec":1377,"conf":0.41},{"rec":1378,"conf":0.49},{"rec":1380,"conf":0.38},{"rec":1381,"conf":0.45},{"rec":1383,"conf":0.30},{"rec":1383,"conf":0.42},{"rec":1384,"conf":0.36},{"rec":1386,"conf":0.47},{"rec":1387,"conf":0.54},{"rec":1387,"conf":0.40},{"rec":1389,"conf":0.34},{"rec":1390,"conf":0.44},{"rec":1391,"conf":0.38},{"rec":1393,"conf":0.49},{"rec":1395,"conf":0.55},{"rec":1395,"conf":0.42},{"rec":1396,"conf":0.28},{"rec":1396,"conf":0.36},{"rec":1398,"conf":0.45},{"rec":1399,"conf":0.40},{"rec":1400,"conf":0.33},{"rec":1402,"conf":0.47},{"rec":1403,"conf":0.41},{"rec":1405,"conf":0.37},{"rec":1406,"conf":0.50},{"rec":1407,"conf":0.44},{"rec":1409,"conf":0.34},{"rec":1410,"conf":0.39},{"rec":1411,"conf":0.46},{"rec":1413,"conf":0.42},{"rec":1414,"conf":0.36},{"rec":1416,"conf":0.48},{"rec":1417,"conf":0.31},{"rec":1418,"conf":0.43},{"rec":1420,"conf":0.39},{"rec":1421,"conf":0.29},{"rec":1422,"conf":0.45},{"rec":1423,"conf":0.35},{"rec":1425,"conf":0.41},{"rec":1426,"conf":0.80},{"rec":1427,"conf":0.52},{"rec":1428,"conf":0.38},{"rec":1431,"conf":0.665},{"rec":1430,"conf":0.44},{"rec":1431,"conf":0.33},{"rec":1432,"conf":0.47},{"rec":1434,"conf":0.40},{"rec":1435,"conf":0.36},{"rec":1437,"conf":0.45},{"rec":1438,"conf":0.31},{"rec":1440,"conf":0.42},{"rec":1441,"conf":0.28},{"rec":1442,"conf":0.38},{"rec":1443,"conf":0.59},{"rec":1444,"conf":0.47},{"rec":1445,"conf":0.55},{"rec":1446,"conf":0.35},{"rec":1447,"conf":0.43},{"rec":1448,"conf":0.54},{"rec":1449,"conf":0.40},{"rec":1451,"conf":0.33},{"rec":1452,"conf":0.46},{"rec":1454,"conf":0.38},{"rec":1455,"conf":0.42},{"rec":1457,"conf":0.31},{"rec":1458,"conf":0.47},{"rec":1460,"conf":0.36},{"rec":1461,"conf":0.44},{"rec":1462,"conf":0.40},{"rec":1464,"conf":0.34},{"rec":1465,"conf":0.47},{"rec":1466,"conf":0.38},{"rec":1467,"conf":0.43},{"rec":1468,"conf":0.32}
      ]},
      "mark": {"type": "point", "shape": "M-1,0L1,0M0,-1L0,1", "filled": false, "stroke": "black", "strokeWidth": 1, "size": 44, "opacity": 1},
      "encoding": {
        "x": {"field": "rec", "type": "quantitative", "scale": {"domain": [0, 1600], "nice": false, "zero": false}, "axis": {"orient": "bottom", "values": [0, 200, 400, 600, 800, 1000, 1200, 1400, 1600], "format": "d", "labelPadding": 8, "title": "Language/ Recording #", "titleX": 298, "titleY": 40, "titleAlign": "center", "titleBaseline": "middle"}},
        "y": {"field": "conf", "type": "quantitative", "scale": {"domain": [0, 1], "nice": false, "zero": false}, "axis": {"orient": "left", "values": [0, 0.2, 0.4, 0.6, 0.8, 1], "format": ".1~f", "labelPadding": 12, "title": "Confidence (German recognizer)", "titleX": -106, "titleY": 217, "titleAngle": 270, "titleAlign": "center", "titleBaseline": "middle"}}
      }
    },
    {
      "data": {"values": [{"rec": 0, "rec2": 1468, "conf": 0.63}]},
      "mark": {"type": "rule", "color": "black", "strokeWidth": 1},
      "encoding": {
        "x": {"field": "rec", "type": "quantitative", "axis": {"orient": "top", "values": [0, 200, 400, 600, 800, 1000, 1200, 1400, 1600], "labels": false, "title": null}},
        "x2": {"field": "rec2"},
        "y": {"field": "conf", "type": "quantitative", "axis": {"orient": "right", "values": [0, 0.2, 0.4, 0.6, 0.8, 1], "labels": false, "title": null}}
      }
    },
    {
      "data": {"values": [{"rec": 502}]},
      "mark": {"type": "rule", "color": "black", "strokeWidth": 1, "strokeDash": [2, 3]},
      "encoding": {"x": {"field": "rec", "type": "quantitative", "axis": null}}
    },
    {
      "data": {"values": [{"rec": 971}]},
      "mark": {"type": "rule", "color": "black", "strokeWidth": 1, "strokeDash": [4, 3]},
      "encoding": {"x": {"field": "rec", "type": "quantitative", "axis": null}}
    },
    {
      "data": {"values": [
        {"label": "English\u00a0 E", "rec": 228, "conf": 0.2},
        {"label": "German\u00a0 G", "rec": 735, "conf": 0.2},
        {"label": "Japanese\u00a0 J", "rec": 1240, "conf": 0.2}
      ]},
      "mark": {"type": "text", "font": "Liberation Sans", "fontSize": 21.5, "color": "black", "align": "center", "baseline": "middle"},
      "encoding": {
        "x": {"field": "rec", "type": "quantitative", "axis": null},
        "y": {"field": "conf", "type": "quantitative", "axis": null},
        "text": {"field": "label"}
      }
    }
  ]
}
